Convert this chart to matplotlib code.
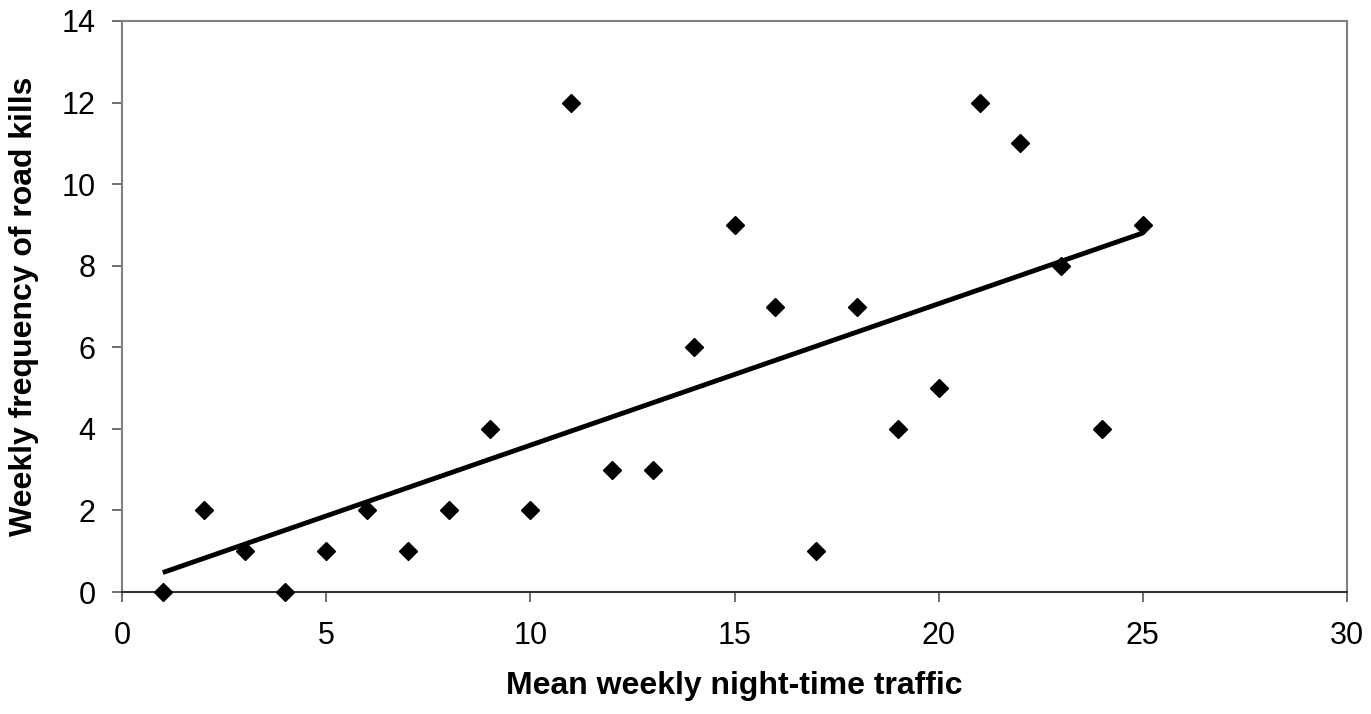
import numpy as np
import matplotlib.pyplot as plt

# mean weekly night-time traffic vs weekly road kills
traffic = [1, 2, 3, 4, 5, 6, 7, 8, 9, 10, 11, 12, 13,
           14, 15, 16, 17, 18, 19, 20, 21, 22, 23, 24, 25]
road_kills = [0, 2, 1, 0, 1, 2, 1, 2, 4, 2, 12, 3, 3,
              6, 9, 7, 1, 7, 4, 5, 12, 11, 8, 4, 9]

plt.rcParams['font.family'] = ['Liberation Sans', 'DejaVu Sans']

fig = plt.figure(figsize=(13.71, 7.14), dpi=100)
ax = fig.add_axes([122 / 1371, 1 - 592 / 714, (1347 - 122) / 1371, (592 - 21) / 714])

# least squares trend line
slope, intercept = np.polyfit(traffic, road_kills, 1)
xs = np.array([traffic[0], traffic[-1]])
ax.plot(xs, slope * xs + intercept, color='black', linewidth=3.5, solid_capstyle='butt')
ax.plot(traffic, road_kills, linestyle='none', marker='D', markersize=9,
        color='black', clip_on=False, zorder=3)

ax.set_xlim(0, 30)
ax.set_ylim(0, 14)
ax.set_xticks(range(0, 31, 5))
ax.set_yticks(range(0, 15, 2))
ax.tick_params(labelsize=22, length=7, width=1.2, color='#555555')
ax.tick_params(axis='x', pad=14)
ax.tick_params(axis='y', pad=12)
for side in ['top', 'right', 'left']:
    ax.spines[side].set_color('#808080')
    ax.spines[side].set_linewidth(1.5)
ax.spines['bottom'].set_color('#333333')
ax.spines['bottom'].set_linewidth(1.5)

ax.set_xlabel('Mean weekly night-time traffic', fontsize=23, fontweight='bold', labelpad=14)
ax.set_ylabel('Weekly frequency of road kills', fontsize=23, fontweight='bold', labelpad=16)

fig.savefig('out.png', dpi=100)
